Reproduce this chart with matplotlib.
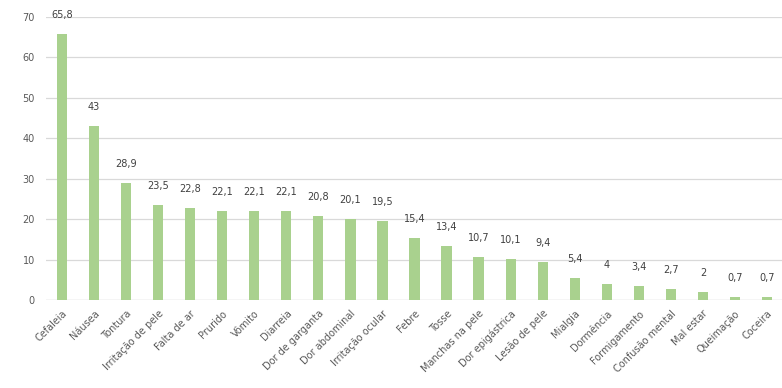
import matplotlib.pyplot as plt

sintomas = [
    "Cefaleia", "Náusea", "Tontura", "Irritação de pele", "Falta de ar",
    "Prurido", "Vômito", "Diarreia", "Dor de garganta", "Dor abdominal",
    "Irritação ocular", "Febre", "Tosse", "Manchas na pele", "Dor epigástrica",
    "Lesão de pele", "Mialgia", "Dormência", "Formigamento", "Confusão mental",
    "Mal estar", "Queimação", "Coceira",
]
valores = [65.8, 43, 28.9, 23.5, 22.8, 22.1, 22.1, 22.1, 20.8, 20.1, 19.5,
           15.4, 13.4, 10.7, 10.1, 9.4, 5.4, 4, 3.4, 2.7, 2, 0.7, 0.7]

fig = plt.figure(figsize=(7.82, 3.88), dpi=100)
ax = fig.add_axes([46 / 782, 1 - 300 / 388, 737 / 782, 283 / 388])

x = range(len(valores))
ax.bar(x, valores, width=0.32, color="#a9d18e", zorder=2)

for xi, v in zip(x, valores):
    txt = f"{v:g}".replace(".", ",")
    ax.text(xi, v + 3.5, txt, ha="center", va="bottom", fontsize=7,
            color="#404040")

ax.set_xlim(-0.5, len(valores) - 0.5)
ax.set_ylim(0, 70)
ax.set_yticks(range(0, 71, 10))
ax.yaxis.grid(True, color="#d9d9d9", lw=0.9, zorder=0)
ax.set_xticks(list(x))
ax.set_xticklabels(sintomas, rotation=45, ha="right", rotation_mode="anchor",
                   fontsize=7, color="#595959")
ax.tick_params(axis="y", labelsize=7, labelcolor="#595959", length=0, pad=8)
ax.tick_params(axis="x", length=0, pad=6)
for s in ax.spines.values():
    s.set_visible(False)
ax.axhline(0, color="#d9d9d9", lw=0.9, zorder=1)

fig.savefig("out.png", dpi=100)
